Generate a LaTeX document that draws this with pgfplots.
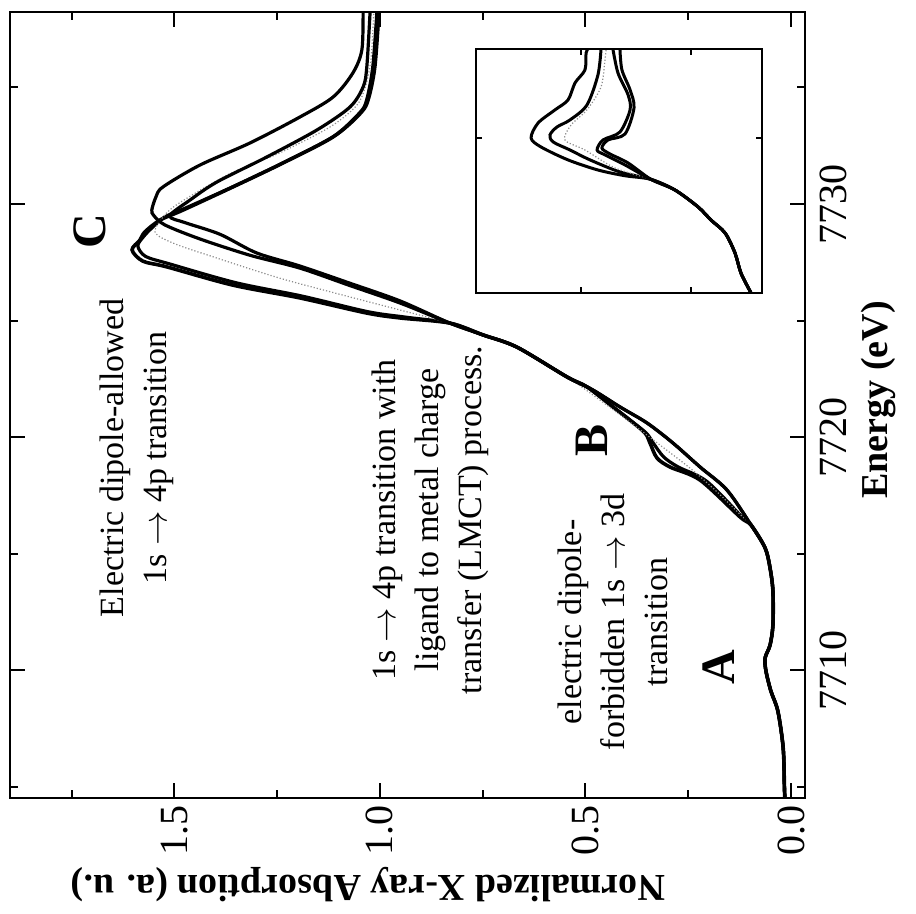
\documentclass[border=0pt]{standalone}
\usepackage{fontspec}
\setmainfont{Liberation Serif}
\usepackage{pgfplots}
\pgfplotsset{compat=1.18}
\begin{document}
\begin{tikzpicture}
\useasboundingbox (-5pt,-58pt) rectangle (453pt,399pt);
% main spectrum: absorption runs along the horizontal (reversed), energy upward
\begin{axis}[
  name=main,
  at={(0,0)}, anchor=south west,
  scale only axis, width=397.5pt, height=393pt,
  x dir=reverse,
  xmin=-0.034, xmax=1.90, ymin=7704.51, ymax=7738.24,
  xtick={0,0.5,1,1.5}, minor xtick={0.25,0.75,1.25,1.75},
  ytick={7710,7720,7730}, minor ytick={7705,7715,7725,7735},
  xtick pos=both, ytick pos=both,
  yticklabel pos=right,
  tick align=inside,
  major tick length=7.5pt, minor tick length=4pt,
  tick style={black, line width=1pt},
  axis line style={line width=1.2pt},
  xticklabel style={rotate=90, anchor=east, font=\fontsize{20}{20}\selectfont,
    /pgf/number format/.cd, fixed, fixed zerofill, precision=1, assume math mode=true},
  yticklabel style={rotate=90, anchor=north, font=\fontsize{20}{20}\selectfont,
    /pgf/number format/.cd, 1000 sep={}, assume math mode=true},
  yticklabel shift=4pt,
  every axis x label/.style={at={(axis description cs:0.4503,-0.1107)}, anchor=center, rotate=180},
  every axis y label/.style={at={(axis description cs:1.092,0.5064)}, anchor=center, rotate=90},
  xlabel={\fontsize{19}{19}\selectfont\bfseries Normalized X-ray Absorption (a. u.)},
  ylabel={\fontsize{19}{19}\selectfont\bfseries Energy (eV)},
  clip mode=individual,
]
% sample 1 (shoulder B, strongest white line)
\addplot[black, line width=1.8pt, smooth, tension=0.5] coordinates {
 (0.015,7704.51) (0.016,7704.94) (0.019,7706.65) (0.032,7708.24) (0.049,7709.10)
 (0.061,7709.96) (0.063,7710.52) (0.051,7711.07) (0.044,7711.93) (0.044,7713.39)
 (0.051,7714.38) (0.063,7715.24) (0.097,7716.22)
 (0.124,7716.57) (0.221,7718.15) (0.294,7718.71) (0.326,7719.10) (0.343,7719.74)
 (0.355,7720.17) (0.392,7720.73) (0.433,7721.29) (0.496,7722.15) (0.545,7722.58)
 (0.667,7723.86) (0.749,7724.38) (0.830,7724.89)
 (0.951,7725.11) (1.032,7725.32) (1.195,7725.97) (1.358,7726.52) (1.518,7727.30)
 (1.577,7727.55) (1.603,7728.03) (1.584,7728.45) (1.572,7728.80) (1.535,7729.31)
 (1.479,7729.74) (1.358,7730.73) (1.236,7731.76) (1.114,7732.88) (1.049,7733.91)
 (1.032,7734.46) (1.017,7735.88) (1.007,7738.24)};
% sample 2
\addplot[black, line width=1.6pt, smooth, tension=0.5] coordinates {
 (0.015,7704.51) (0.016,7704.94) (0.019,7706.65) (0.032,7708.24) (0.049,7709.10)
 (0.061,7709.96) (0.063,7710.52) (0.051,7711.07) (0.044,7711.93) (0.044,7713.39)
 (0.051,7714.38) (0.063,7715.24) (0.097,7716.22)
 (0.118,7716.55) (0.205,7718.10) (0.275,7718.72) (0.310,7719.15) (0.335,7719.74)
 (0.352,7720.17) (0.392,7720.73) (0.433,7721.29) (0.496,7722.15) (0.545,7722.58)
 (0.667,7723.86) (0.749,7724.38) (0.830,7724.89)
 (0.940,7725.15) (1.030,7725.38) (1.190,7726.05) (1.350,7726.62) (1.510,7727.42)
 (1.570,7727.75) (1.589,7728.20) (1.575,7728.60) (1.555,7728.97) (1.523,7729.45)
 (1.470,7729.85) (1.348,7730.82) (1.226,7731.85) (1.107,7732.96) (1.044,7733.95)
 (1.027,7734.55) (1.012,7735.88) (1.002,7738.24)};
% sample 3 (grey trace)
\addplot[black!45, line width=0.6pt, densely dotted, smooth, tension=0.5] coordinates {
 (0.015,7704.51) (0.016,7704.94) (0.019,7706.65) (0.032,7708.24) (0.049,7709.10)
 (0.061,7709.96) (0.063,7710.52) (0.051,7711.07) (0.044,7711.93) (0.044,7713.39)
 (0.051,7714.38) (0.063,7715.24) (0.097,7716.22)
 (0.122,7716.65) (0.185,7717.73) (0.246,7718.67) (0.319,7719.66) (0.392,7720.64)
 (0.465,7721.59) (0.545,7722.58) (0.667,7723.86) (0.749,7724.38) (0.830,7724.89)
 (0.951,7725.45) (1.114,7726.20) (1.250,7726.85) (1.400,7727.70) (1.500,7728.30)
 (1.547,7728.80) (1.520,7729.60) (1.474,7730.20) (1.365,7731.30) (1.243,7732.20)
 (1.122,7733.30) (1.058,7734.20) (1.036,7735.00) (1.022,7736.20) (1.015,7738.24)};
% sample 4
\addplot[black, line width=1.6pt, smooth, tension=0.5] coordinates {
 (0.015,7704.51) (0.016,7704.94) (0.019,7706.65) (0.032,7708.24) (0.049,7709.10)
 (0.061,7709.96) (0.063,7710.52) (0.051,7711.07) (0.044,7711.93) (0.044,7713.39)
 (0.051,7714.38) (0.063,7715.24) (0.097,7716.22)
 (0.156,7717.73) (0.221,7718.71) (0.287,7719.74) (0.350,7720.60) (0.416,7721.29)
 (0.482,7722.02) (0.545,7722.58) (0.667,7723.86) (0.749,7724.38) (0.830,7724.89)
 (0.951,7725.75) (1.073,7726.50) (1.195,7727.25) (1.316,7727.80) (1.438,7728.50)
 (1.523,7729.10) (1.550,7729.50) (1.555,7729.74) (1.545,7730.30) (1.528,7730.73)
 (1.438,7731.67) (1.316,7732.62) (1.195,7733.73) (1.114,7734.59) (1.066,7735.62)
 (1.044,7736.61) (1.041,7738.24)};
% sample 5
\addplot[black, line width=1.6pt, smooth, tension=0.5] coordinates {
 (0.015,7704.51) (0.016,7704.94) (0.019,7706.65) (0.032,7708.24) (0.049,7709.10)
 (0.061,7709.96) (0.063,7710.52) (0.051,7711.07) (0.044,7711.93) (0.044,7713.39)
 (0.051,7714.38) (0.063,7715.24) (0.097,7716.22)
 (0.156,7717.73) (0.221,7718.71) (0.287,7719.74) (0.350,7720.60) (0.416,7721.29)
 (0.482,7722.02) (0.545,7722.58) (0.667,7723.86) (0.749,7724.38) (0.830,7724.89)
 (0.951,7725.84) (1.073,7726.60) (1.195,7727.34) (1.300,7727.90) (1.389,7728.70)
 (1.474,7729.20) (1.511,7729.49) (1.462,7730.17) (1.397,7730.94) (1.275,7732.02)
 (1.153,7733.18) (1.073,7734.16) (1.041,7735.02) (1.032,7735.88) (1.024,7738.24)};

\node[rotate=90, align=center, font=\fontsize{17}{21.5}\selectfont]
  at (axis cs:1.591,7719.1) {Electric dipole-allowed\\1s $\rightarrow$ 4p transition};
\node[rotate=90, align=center, font=\fontsize{17}{21.5}\selectfont]
  at (axis cs:0.878,7716.44) {1s $\rightarrow$ 4p transition with\\ligand to metal charge\\transfer (LMCT) process.};
\node[rotate=90, align=center, font=\fontsize{17}{21.5}\selectfont]
  at (axis cs:0.433,7712.06) {electric dipole-\\forbidden 1s $\rightarrow$ 3d\\transition};
\node[rotate=90, font=\fontsize{24}{24}\selectfont\bfseries] at (axis cs:0.175,7710.13) {A};
\node[rotate=90, font=\fontsize{24}{24}\selectfont\bfseries] at (axis cs:0.484,7719.87) {B};
\node[rotate=90, font=\fontsize{24}{24}\selectfont\bfseries] at (axis cs:1.706,7728.84) {C};
\end{axis}

% inset: enlarged white-line region
\begin{axis}[
  at={(233pt,252.5pt)}, anchor=south west,
  scale only axis, width=143pt, height=122pt,
  x dir=reverse,
  xmin=0.1773, xmax=1.4773, ymin=7721.39, ymax=7734.94,
  xtick={0.5,1.0}, ytick={7730},
  xticklabels={}, yticklabels={},
  xtick pos=both, ytick pos=both,
  tick align=inside, major tick length=3pt,
  tick style={black, line width=0.6pt},
  axis line style={line width=0.7pt},
  axis background/.style={fill=white},
]
\addplot[black, line width=1.5pt, smooth, tension=0.5] coordinates {
 (0.227,7721.39) (0.273,7722.50) (0.300,7723.61) (0.345,7724.72) (0.409,7725.44)
 (0.468,7726.17) (0.573,7727.11) (0.682,7727.70) (0.800,7727.90) (0.923,7728.22)
 (1.059,7728.78) (1.182,7729.50) (1.227,7730.00) (1.195,7730.83) (1.118,7731.56)
 (1.059,7732.11) (1.027,7733.06) (0.982,7733.78) (0.977,7734.72) (0.968,7734.94)};
\addplot[black, line width=1.5pt, smooth, tension=0.5] coordinates {
 (0.227,7721.39) (0.273,7722.50) (0.300,7723.61) (0.345,7724.72) (0.409,7725.44)
 (0.468,7726.17) (0.573,7727.11) (0.682,7727.70) (0.823,7728.11) (0.959,7728.78)
 (1.050,7729.33) (1.127,7729.78) (1.141,7730.17) (1.109,7730.61) (1.050,7731.00)
 (0.973,7731.83) (0.923,7733.50) (0.909,7734.94)};
\addplot[black!45, line width=0.6pt, densely dotted, smooth, tension=0.5] coordinates {
 (0.227,7721.39) (0.273,7722.50) (0.300,7723.61) (0.345,7724.72) (0.409,7725.44)
 (0.468,7726.17) (0.573,7727.11) (0.682,7727.70) (0.845,7728.33) (0.982,7729.33)
 (1.073,7729.89) (1.045,7730.72) (0.973,7731.56) (0.909,7732.83) (0.891,7734.33)
 (0.886,7734.94)};
\addplot[black, line width=1.5pt, smooth, tension=0.5] coordinates {
 (0.227,7721.39) (0.273,7722.50) (0.300,7723.61) (0.345,7724.72) (0.409,7725.44)
 (0.468,7726.17) (0.573,7727.11) (0.682,7727.70) (0.800,7728.50) (0.891,7729.06)
 (0.927,7729.33) (0.900,7729.89) (0.823,7730.33) (0.777,7731.56) (0.786,7732.39)
 (0.832,7733.61) (0.855,7734.94)};
\addplot[black, line width=1.5pt, smooth, tension=0.5] coordinates {
 (0.227,7721.39) (0.273,7722.50) (0.300,7723.61) (0.345,7724.72) (0.409,7725.44)
 (0.468,7726.17) (0.573,7727.11) (0.682,7727.70) (0.786,7728.61) (0.868,7729.11)
 (0.905,7729.44) (0.877,7729.89) (0.800,7730.22) (0.759,7731.67) (0.777,7732.67)
 (0.814,7733.78) (0.823,7734.94)};
\end{axis}
\end{tikzpicture}
\end{document}
